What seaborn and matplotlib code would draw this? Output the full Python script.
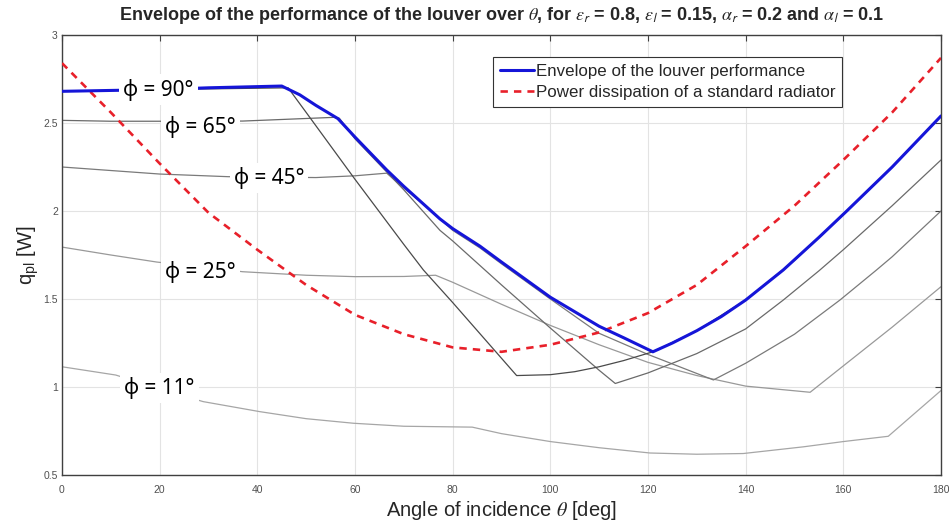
import matplotlib
matplotlib.use("Agg")
import matplotlib.pyplot as plt
import seaborn as sns
import pandas as pd

# ---------------- data ----------------
env_theta = [0, 10, 20, 30, 45, 48.7, 52, 56.5, 60, 66.5, 70, 77.4, 80, 85.6, 90, 100,
             110, 115, 121, 125, 130, 135, 140, 147.7, 155, 160.7, 170, 180]
env_q = [2.68, 2.685, 2.69, 2.70, 2.71, 2.66, 2.60, 2.525, 2.42, 2.233, 2.14, 1.955, 1.90,
         1.80, 1.71, 1.51, 1.345, 1.28, 1.20, 1.25, 1.32, 1.40, 1.494, 1.665, 1.85, 2.0,
         2.25, 2.54]

rad_theta = [0, 10, 20, 30, 40, 50, 60, 70, 80, 90, 100, 110, 120, 130, 140, 150, 160, 170, 180]
rad_q = [2.84, 2.56, 2.27, 1.99, 1.78, 1.58, 1.41, 1.30, 1.225, 1.20, 1.24, 1.31, 1.42,
         1.58, 1.80, 2.03, 2.29, 2.56, 2.87]

phi90_theta = [0, 20, 46.3, 50, 60, 70, 74, 80, 93.1, 100, 105, 110, 115, 121, 130, 140,
               150, 160, 170, 180]
phi90_q = [2.68, 2.69, 2.70, 2.56, 2.18, 1.81, 1.665, 1.48, 1.065, 1.07, 1.087, 1.115,
           1.15, 1.20, 1.32, 1.494, 1.72, 1.98, 2.25, 2.54]

phi65_theta = [0, 10, 20, 37, 45, 55.6, 56.8, 60, 70, 77.4, 80, 85.6, 90, 100, 110, 113.3,
               120, 130, 140, 147.7, 155, 160, 170, 180]
phi65_q = [2.515, 2.51, 2.51, 2.511, 2.52, 2.532, 2.527, 2.41, 2.12, 1.89, 1.83, 1.69,
           1.58, 1.335, 1.095, 1.02, 1.08, 1.19, 1.33, 1.494, 1.66, 1.78, 2.03, 2.29]

phi45_theta = [0, 10, 20, 34, 52, 60, 66.5, 70, 75, 80, 85.6, 90, 100, 110, 120, 133.4,
               140, 150, 159.3, 166.8, 170, 180]
phi45_q = [2.25, 2.23, 2.21, 2.195, 2.19, 2.20, 2.215, 2.13, 2.015, 1.89, 1.79, 1.70, 1.50,
           1.305, 1.185, 1.04, 1.135, 1.30, 1.494, 1.665, 1.74, 2.0]

phi25_theta = [0, 10, 19.4, 37, 50, 60, 70, 76.5, 80, 90, 100, 110, 120, 130, 140, 153.2,
               160, 170, 180]
phi25_q = [1.795, 1.75, 1.71, 1.655, 1.635, 1.627, 1.628, 1.635, 1.595, 1.47, 1.35, 1.24,
           1.14, 1.065, 1.005, 0.97, 1.12, 1.34, 1.57]

phi11_theta = [0, 11, 20, 28.9, 40.5, 50, 59.7, 70, 84, 90, 100, 110, 120.4, 130, 139.5,
               151.8, 160, 169.2, 180]
phi11_q = [1.115, 1.068, 0.99, 0.917, 0.86, 0.82, 0.794, 0.777, 0.772, 0.735, 0.69, 0.655,
           0.625, 0.618, 0.622, 0.66, 0.69, 0.72, 0.98]

phi_labels = ["ϕ = 90°", "ϕ = 65°", "ϕ = 45°", "ϕ = 25°", "ϕ = 11°"]
label_x = [19.7, 28.3, 42.4, 28.3, 19.9]
label_y = [2.69, 2.48, 2.186, 1.655, 0.993]

xticks = [0, 20, 40, 60, 80, 100, 120, 140, 160, 180]
yticks = [0.5, 1, 1.5, 2, 2.5, 3]
ytick_labels = ["0.5", "1", "1.5", "2", "2.5", "3"]

legend_labels = ["Envelope of the louver performance",
                 "Power dissipation of a standard radiator"]

# ---------------- style ----------------
sns.set_theme(style="white")
plt.rcParams["font.family"] = ["Liberation Sans", "DejaVu Sans"]
plt.rcParams["mathtext.fontset"] = "custom"
plt.rcParams["mathtext.rm"] = "Liberation Sans"
plt.rcParams["mathtext.it"] = "Liberation Sans:italic"
plt.rcParams["mathtext.bf"] = "Liberation Sans:bold"

fig = plt.figure(figsize=(9.49, 5.27), dpi=100)
ax = fig.add_axes([62 / 949, 1 - 475 / 527, 879 / 949, 440 / 527])

gray_curves = [
    (phi11_theta, phi11_q, "#a6a6a6"),
    (phi25_theta, phi25_q, "#999999"),
    (phi45_theta, phi45_q, "#7a7a7a"),
    (phi65_theta, phi65_q, "#6a6a6a"),
    (phi90_theta, phi90_q, "#4a4a4a"),
]
for th, q, c in gray_curves:
    sns.lineplot(x=th, y=q, ax=ax, color=c, linewidth=0.9, sort=False, zorder=2)

sns.lineplot(x=rad_theta, y=rad_q, ax=ax, color="#e8202a", linewidth=1.9,
             sort=False, zorder=3)
red_line = ax.lines[-1]
red_line.set_dashes((2.8, 2.3))
red_line.set_label(legend_labels[1])

sns.lineplot(x=env_theta, y=env_q, ax=ax, color="#1515d8", linewidth=2.2,
             sort=False, zorder=4)
blue_line = ax.lines[-1]
blue_line.set_label(legend_labels[0])

for t, x, y in zip(phi_labels, label_x, label_y):
    ax.text(x, y, t, ha="center", va="center", fontsize=15,
            family=["Noto Sans", "DejaVu Sans"], color="black", zorder=6,
            bbox=dict(facecolor="white", edgecolor="none", pad=3))

ax.set_xlim(0, 180)
ax.set_ylim(0.5, 3)
ax.set_xticks(xticks)
ax.set_xticklabels([str(v) for v in xticks])
ax.set_yticks(yticks)
ax.set_yticklabels(ytick_labels)
ax.grid(True, color="#e3e3e3", linewidth=0.8)
ax.set_axisbelow(True)
ax.tick_params(axis="both", direction="in", length=4, width=0.8, color="#404040",
               labelsize=7.5, labelcolor="#505050", top=True, right=True)
ax.tick_params(axis="x", pad=7)
ax.tick_params(axis="y", pad=3)
for s in ax.spines.values():
    s.set_color("#404040")
    s.set_linewidth(1.0)
    s.set_visible(True)

ax.set_xlabel(r"Angle of incidence $\theta$ [deg]", fontsize=14.5, color="#262626",
              labelpad=3, math_fontfamily="stix")
ax.set_ylabel(r"q$_{\mathrm{pl}}$ [W]", fontsize=14.5, color="#262626", labelpad=2)

ax.set_title(r"Envelope of the performance of the louver over $\theta$, for "
             r"$\epsilon_\mathsf{r}$ = 0.8, $\epsilon_\mathsf{l}$ = 0.15, "
             r"$\alpha_\mathsf{r}$ = 0.2 and $\alpha_\mathsf{l}$ = 0.1",
             fontsize=13, fontweight="bold", pad=11, math_fontfamily="stix",
             family=["Liberation Sans", "DejaVu Sans"])

leg = ax.legend(handles=[blue_line, red_line], labels=legend_labels,
                loc="upper left", bbox_to_anchor=(0.4903, 0.95), borderaxespad=0,
                fontsize=12.2, frameon=True, fancybox=False, framealpha=1,
                edgecolor="#333333", handlelength=2.0, handletextpad=0.15,
                labelspacing=0.38, borderpad=0.4)
leg.get_frame().set_linewidth(0.8)

fig.savefig("out.png", dpi=100)
